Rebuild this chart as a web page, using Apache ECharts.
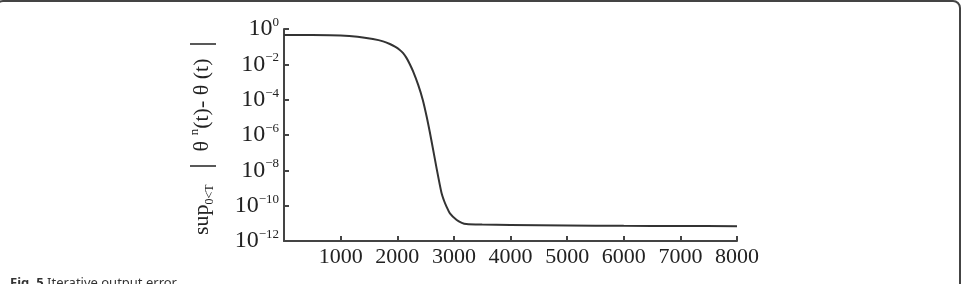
<!DOCTYPE html>
<html>
<head>
<meta charset="utf-8">
<script src="https://cdn.jsdelivr.net/npm/echarts@6/dist/echarts.min.js"></script>
<style>
  html, body { margin: 0; padding: 0; background: #fff; }
  #chart { width: 967px; height: 284px; }
</style>
</head>
<body>
<div id="chart"></div>
<script>
// Iteration error curve
var iterations = [0, 500, 1000, 1300, 1570, 1750, 1870, 1960, 2040, 2100, 2160, 2220, 2280, 2370, 2450, 2520, 2600, 2690, 2780, 2830, 2870, 2930, 3050, 3140, 3220, 3500, 4000, 5000, 6000, 7000, 8000];
var errors = [0.46, 0.455, 0.427, 0.363, 0.269, 0.2, 0.141, 0.1, 0.0676, 0.0447, 0.024, 0.0105, 3.98e-3, 6.9e-4, 1e-4, 1.07e-5, 5.6e-7, 1.58e-8, 5.6e-10, 1.78e-10, 8.9e-11, 3.7e-11, 1.55e-11, 1.07e-11, 9.1e-12, 8.5e-12, 8.1e-12, 7.6e-12, 7.2e-12, 7.1e-12, 6.9e-12];

var xTicks = [1000, 2000, 3000, 4000, 5000, 6000, 7000, 8000];
var yExponents = [0, -2, -4, -6, -8, -10, -12];

var chart = echarts.init(document.getElementById('chart'));

var points = iterations.map(function (x, i) { return [x, errors[i]]; });

var option = {
    animation: false,
    grid: {
        left: 284,
        right: 230,
        top: 29,
        bottom: 43
    },
    xAxis: {
        type: 'value',
        min: 0,
        max: 8000,
        interval: 1000,
        splitLine: { show: false },
        axisLine: { lineStyle: { color: '#444', width: 2 } },
        axisTick: { inside: true, length: 5, lineStyle: { color: '#444', width: 2 } },
        axisLabel: {
            margin: 5,
            fontFamily: 'Liberation Serif',
            fontSize: 22,
            color: '#222',
            formatter: function (v) {
                return xTicks.indexOf(v) >= 0 ? String(v) : '';
            }
        }
    },
    yAxis: {
        type: 'log',
        logBase: 10,
        min: 1e-12,
        max: 1,
        interval: 2,
        splitLine: { show: false },
        axisLine: { lineStyle: { color: '#444', width: 2 } },
        axisTick: { inside: true, length: 5, lineStyle: { color: '#444', width: 2 } },
        axisLabel: {
            margin: 5,
            formatter: function (v) {
                var e = Math.round(Math.log10(v));
                if (yExponents.indexOf(e) < 0) return '';
                return '{b|10}{s|' + String(e).replace('-', '\u2212') + '}';
            },
            rich: {
                b: { fontFamily: 'Liberation Serif', fontSize: 24, color: '#222', lineHeight: 26 },
                s: { fontFamily: 'Liberation Serif', fontSize: 13, color: '#222', verticalAlign: 'top', lineHeight: 26, padding: [0, 0, 10, 0] }
            }
        },
        name: '{a|sup}{sb|0<T}{br| |}{a| θ }{sp|n}{a|(t)- θ (t) }{br||}',
        nameLocation: 'middle',
        nameRotate: 90,
        nameGap: 68,
        nameTextStyle: {
            rich: {
                a: { fontFamily: 'Liberation Serif', fontSize: 22, color: '#222', lineHeight: 28 },
                sb: { fontFamily: 'Liberation Serif', fontSize: 12, color: '#222', lineHeight: 28, verticalAlign: 'bottom', padding: [8, 2, 0, 0] },
                sp: { fontFamily: 'Liberation Serif', fontSize: 13, color: '#222', lineHeight: 28, verticalAlign: 'top', padding: [0, 0, 10, 0] },
                br: { fontFamily: 'Liberation Serif', fontSize: 30, color: '#222', lineHeight: 28, padding: [0, 6, 0, 6] }
            }
        }
    },
    series: [
        {
            type: 'line',
            data: points,
            smooth: 0.25,
            showSymbol: false,
            lineStyle: { color: '#333', width: 2 }
        }
    ],
    graphic: [
        {
            type: 'rect',
            shape: { x: -4, y: 1, width: 964, height: 320, r: 7 },
            style: { fill: 'none', stroke: '#444', lineWidth: 2 }
        },
        {
            type: 'text',
            left: 10,
            top: 277,
            style: {
                text: '{f|Fig. 5} {t|Iterative output error}',
                rich: {
                    f: { fontFamily: 'Noto Sans', fontWeight: 'bold', fontSize: 13, fill: '#333' },
                    t: { fontFamily: 'Noto Sans', fontSize: 13, fill: '#333' }
                }
            }
        }
    ]
};

chart.setOption(option);
</script>
</body>
</html>
